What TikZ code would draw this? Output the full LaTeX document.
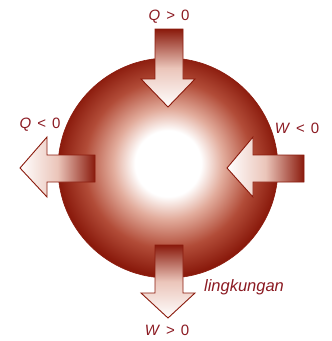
\documentclass[tikz,border=0pt]{standalone}
\usepackage{fontspec}
\setmainfont{Liberation Sans}
\definecolor{dred}{HTML}{8A1A0C}
\definecolor{mred}{HTML}{B24C38}
\definecolor{lred}{HTML}{E2AC9C}
\definecolor{txtred}{HTML}{8B1A22}
\pgfdeclareradialshading{ball}{\pgfpoint{0bp}{1.2bp}}{color(0bp)=(white); color(7.5bp)=(white); color(12.5bp)=(lred); color(19bp)=(mred); color(25bp)=(dred); color(50bp)=(dred)}
\tikzset{
  lbl/.style={text=txtred, font=\fontsize{15}{15}\selectfont, inner sep=0pt},
  arrowshape/.style={draw=dred, line width=0.9pt, line join=miter},
}
\newcommand{\gp}{\hspace{6pt}}
\begin{document}
\begin{tikzpicture}[x=1pt,y=-1pt]
\useasboundingbox (0,0) rectangle (332,341);
% sphere
\shade[shading=ball, draw=dred, line width=0.6pt] (168,168) circle (110);
% top arrow (Q>0)
\shade[arrowshape, top color=dred, bottom color=white, middle color=lred!70!white]
  (155,29) -- (183,29) -- (183,79) -- (195,79) -- (168,107) -- (141,79) -- (155,79) -- cycle;
% bottom arrow (W>0)
\shade[arrowshape, top color=dred, bottom color=white, middle color=lred!70!white]
  (155,245) -- (183,245) -- (183,293) -- (195,293) -- (168,318) -- (141,293) -- (155,293) -- cycle;
% left arrow (Q<0)
\shade[arrowshape, right color=dred, left color=white, middle color=lred!70!white]
  (95,155) -- (95,182) -- (47,182) -- (47,197) -- (20,168) -- (47,137) -- (47,155) -- cycle;
% right arrow (W<0)
\shade[arrowshape, right color=dred, left color=white, middle color=lred!70!white]
  (304,155) -- (304,182) -- (253,182) -- (253,197) -- (227,168) -- (253,137) -- (253,155) -- cycle;
% labels
\node[lbl] (qpos) at (169,17) {\textit{Q}\gp>\gp0};
\node[lbl] (qneg) at (40,125) {\textit{Q}\gp<\gp0};
\node[lbl] (wneg) at (297,128) {\textit{W}\gp<\gp0};
\node[lbl] (wpos) at (167,330) {\textit{W}\gp>\gp0};
\node[lbl, font=\fontsize{16.5}{16.5}\selectfont\itshape] (env) at (244,287) {lingkungan};
\end{tikzpicture}
\end{document}
